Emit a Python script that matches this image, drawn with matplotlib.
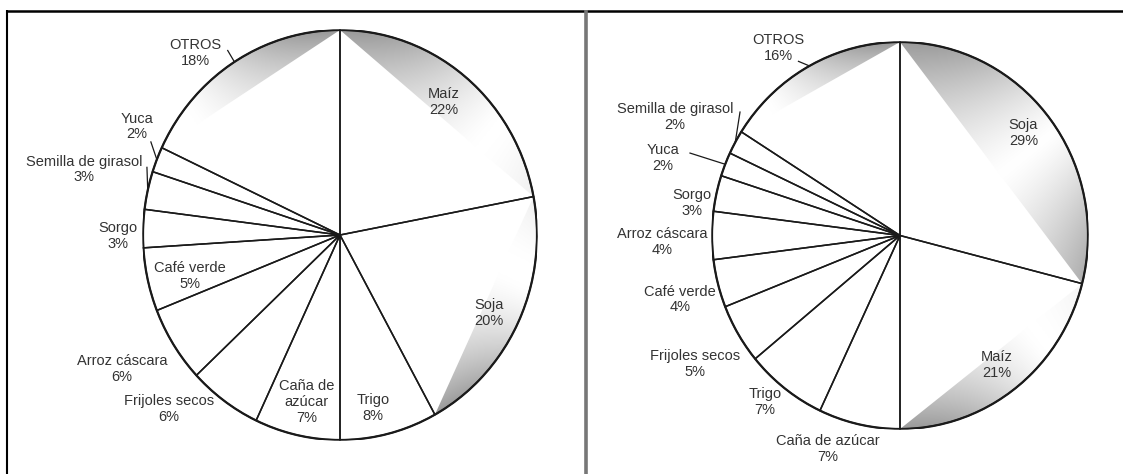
import numpy as np
import matplotlib
matplotlib.use("Agg")
import matplotlib.pyplot as plt
from matplotlib.patches import Polygon, Ellipse

plt.rcParams['font.family'] = ['Liberation Sans', 'DejaVu Sans']

# ---------------- data ----------------
left_categories = ['Maíz', 'Soja', 'Trigo', 'Caña de azúcar', 'Frijoles secos',
                   'Arroz cáscara', 'Café verde', 'Sorgo', 'Semilla de girasol',
                   'Yuca', 'OTROS']
left_values = [22, 20, 8, 7, 6, 6, 5, 3, 3, 2, 18]

right_categories = ['Soja', 'Maíz', 'Caña de azúcar', 'Trigo', 'Frijoles secos',
                    'Café verde', 'Arroz cáscara', 'Sorgo', 'Yuca',
                    'Semilla de girasol', 'OTROS']
right_values = [29, 21, 7, 7, 5, 4, 4, 3, 2, 2, 16]

# ---------------- layout / style ----------------
W, H = 1123, 474
# label centres in normalised ellipse coordinates
left_label_pos = {
    'Maíz': (0.528, 0.649), 'Soja': (0.756, -0.38), 'Trigo': (0.167, -0.844),
    'Caña de azúcar': (-0.17, -0.815), 'Frijoles secos': (-0.87, -0.85),
    'Arroz cáscara': (-1.107, -0.654), 'Café verde': (-0.76, -0.2),
    'Sorgo': (-1.127, -0.005), 'Semilla de girasol': (-1.30, 0.32),
    'Yuca': (-1.03, 0.53), 'OTROS': (-0.736, 0.888)}
left_wrap = {'Caña de azúcar': 'Caña de\nazúcar'}
left_leaders = {'OTROS': (-0.57, 0.90), 'Yuca': (-0.96, 0.454),
                'Semilla de girasol': (-0.98, 0.33)}
left_shade = {'Maíz': (1.0, 0.7, 0.15, 0.25), 'Soja': (0.15, 0.25, 1.0, 0.65),
              'OTROS': (0.0, 0.3, 1.0, 0.8)}

right_label_pos = {
    'Soja': (0.657, 0.53), 'Maíz': (0.516, -0.669), 'Caña de azúcar': (-0.383, -1.103),
    'Trigo': (-0.718, -0.86), 'Frijoles secos': (-1.09, -0.664),
    'Café verde': (-1.17, -0.33), 'Arroz cáscara': (-1.266, -0.034),
    'Sorgo': (-1.106, 0.168), 'Yuca': (-1.26, 0.40),
    'Semilla de girasol': (-1.197, 0.612), 'OTROS': (-0.649, 0.969)}
right_wrap = {}
right_leaders = {'OTROS': (-0.54, 0.90), 'Yuca': (-1.117, 0.426),
                 'Semilla de girasol': (-0.851, 0.638)}
right_shade = {'Soja': (1.0, 0.55, 0.8, 0.45), 'Maíz': (0.1, 0.25, 1.0, 0.7),
               'OTROS': (0.0, 0.3, 1.0, 0.8)}

TEXT_COLOR = '#333333'
EDGE = '#1a1a1a'
FS = 10.5


def shade_segment(ax, th_a, th_b, sa, wa, sb, wb):
    th = np.linspace(np.radians(th_a), np.radians(th_b), 120)
    arc = np.column_stack([np.cos(th), np.sin(th)])
    poly = Polygon(arc, closed=True, facecolor='none', edgecolor='none',
                   transform=ax.transData)
    ax.add_patch(poly)
    A, B = arc[0], arc[-1]
    d = B - A
    gx, gy = np.meshgrid(np.linspace(-1, 1, 500), np.linspace(-1, 1, 500))
    t = ((gx - A[0]) * d[0] + (gy - A[1]) * d[1]) / (d @ d)
    # perpendicular distance from chord, normalised by sagitta
    nrm = np.array([-d[1], d[0]]) / np.hypot(*d)
    mid = np.array([np.cos(np.radians((th_a + th_b) / 2)),
                    np.sin(np.radians((th_a + th_b) / 2))])
    sag = abs((mid - A) @ nrm)
    s = np.abs((gx - A[0]) * nrm[0] + (gy - A[1]) * nrm[1]) / max(sag, 1e-6)
    s = np.clip(s, 0, 1)
    dark = sa * np.clip(1 - t / wa, 0, 1) ** 1.3 + sb * np.clip((t - (1 - wb)) / wb, 0, 1) ** 1.3
    dark = np.clip(dark, 0, 1) * (0.65 + 0.35 * s)
    g = 1 - 0.6 * dark
    img = np.dstack([g, g, g])
    im = ax.imshow(img, extent=(-1, 1, -1, 1), origin='lower', zorder=0.5,
                   interpolation='bilinear', aspect='auto')
    im.set_clip_path(poly)


def draw_pie(ax, cats, vals, label_pos, wrap, leaders, shades):
    ax.pie(vals, startangle=90, counterclock=False, radius=1,
           wedgeprops=dict(facecolor='none', edgecolor=EDGE, linewidth=1.1))
    ax.set_aspect('auto')
    total = float(sum(vals))
    cum = np.concatenate([[0], np.cumsum(vals)]) / total * 360.0
    for i, c in enumerate(cats):
        a0, a1 = cum[i], cum[i + 1]
        if c in shades:
            sa, wa, sb, wb = shades[c]
            shade_segment(ax, 90 - a0, 90 - a1, sa, wa, sb, wb)
        x, y = label_pos[c]
        txt = f"{wrap.get(c, c)}\n{vals[i]}%"
        ax.text(x, y, txt, ha='center', va='center', fontsize=FS,
                color=TEXT_COLOR, linespacing=1.15, clip_on=False)
        if c in leaders:
            am = np.radians(90 - (a0 + a1) / 2)
            sx, sy = leaders[c]
            ax.plot([sx, np.cos(am)], [sy, np.sin(am)], color=EDGE, lw=0.9,
                    clip_on=False)
    ax.add_patch(Ellipse((0, 0), 2, 2, facecolor='none', edgecolor=EDGE,
                         linewidth=1.6, zorder=3))
    ax.set_xlim(-1, 1)
    ax.set_ylim(-1, 1)
    ax.axis('off')


fig = plt.figure(figsize=(W / 100, H / 100), dpi=100)
fig.patch.set_facecolor('white')

# left pie box: cx=340, rx=197, cy=235, ry=205 (pixels)
axL = fig.add_axes([(340 - 197) / W, (H - (235 + 205)) / H, 2 * 197 / W, 2 * 205 / H])
draw_pie(axL, left_categories, left_values, left_label_pos, left_wrap,
         left_leaders, left_shade)

# right pie box: cx=900, rx=188, cy=235.5, ry=193.5
axR = fig.add_axes([(900 - 188) / W, (H - (235.5 + 193.5)) / H, 2 * 188 / W, 2 * 193.5 / H])
draw_pie(axR, right_categories, right_values, right_label_pos, right_wrap,
         right_leaders, right_shade)

# frame lines
bg = fig.add_axes([0, 0, 1, 1], zorder=-1)
bg.set_xlim(0, W)
bg.set_ylim(H, 0)
bg.axis('off')
bg.plot([6, W], [10.5, 10.5], color='black', lw=1.8, solid_capstyle='butt')
bg.plot([6.5, 6.5], [10, H], color='black', lw=1.5, solid_capstyle='butt')
bg.plot([586, 586], [10, H], color='#777777', lw=2.6, solid_capstyle='butt')

fig.savefig('out.png', dpi=100, facecolor='white')
